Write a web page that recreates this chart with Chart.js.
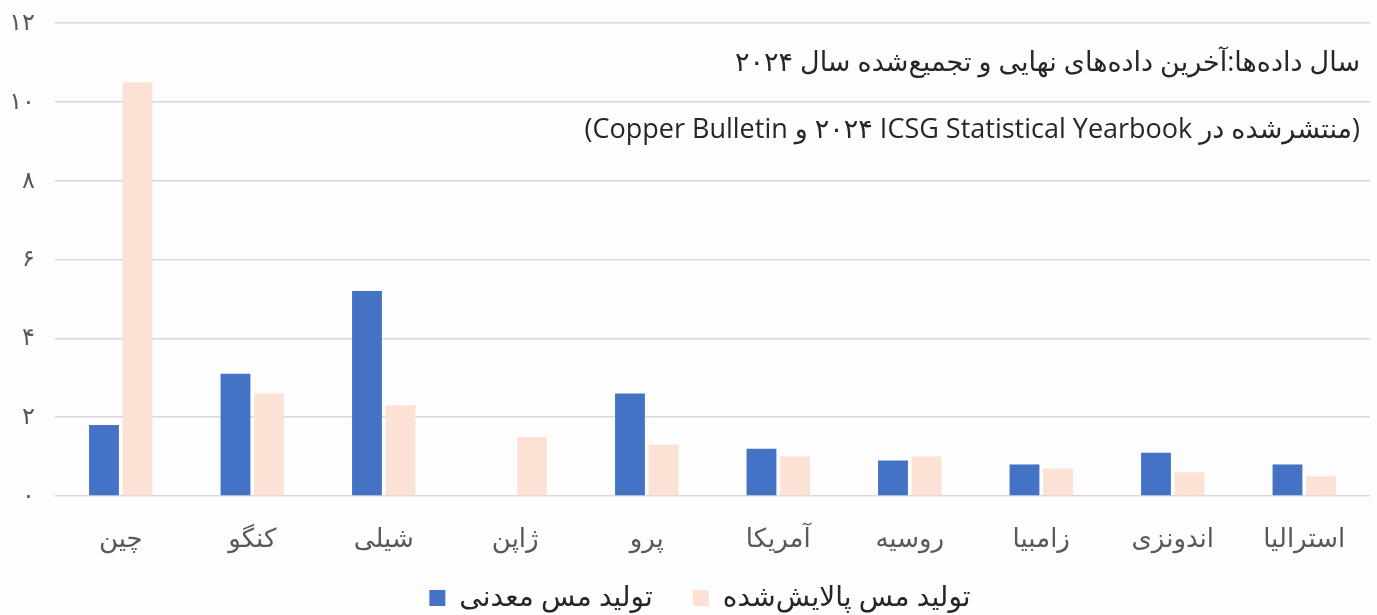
<!DOCTYPE html>
<html>
<head>
<meta charset="utf-8">
<script src="https://cdn.jsdelivr.net/npm/chart.js@4"></script>
<style>
  html, body { margin: 0; padding: 0; background: #fdfdfd; }
  #wrap { width: 1377px; height: 615px; }
</style>
</head>
<body>
<div id="wrap"><canvas id="copperChart"></canvas></div>
<script>
// Data (million tonnes)
const categories = ['چین', 'کنگو', 'شیلی', 'ژاپن', 'پرو', 'آمریکا', 'روسیه', 'زامبیا', 'اندونزی', 'استرالیا'];
const minedCopper = [1.8, 3.1, 5.2, 0, 2.6, 1.2, 0.9, 0.8, 1.1, 0.8];
const refinedCopper = [10.5, 2.6, 2.3, 1.5, 1.3, 1.0, 1.0, 0.7, 0.6, 0.5];
const seriesNames = ['تولید مس معدنی', 'تولید مس پالایش‌شده'];
const yTickValues = [0, 2, 4, 6, 8, 10, 12];
const yTickLabels = ['۰', '۲', '۴', '۶', '۸', '۱۰', '۱۲'];
const noteLines = [
    'سال داده‌ها:آخرین داده‌های نهایی و تجمیع‌شده سال ۲۰۲۴',
    '(منتشرشده در ICSG Statistical Yearbook \u200F۲۰۲۴ و Copper Bulletin)'
];

const fontFamily = '"Open Sans", "DejaVu Sans", sans-serif';

// Draws the two note lines inside the plot area, top right
const notePlugin = {
    id: 'notePlugin',
    afterDatasetsDraw(chart) {
        const ctx = chart.ctx;
        const area = chart.chartArea;
        ctx.save();
        ctx.direction = 'rtl';
        ctx.textAlign = 'right';
        ctx.textBaseline = 'middle';
        ctx.fillStyle = '#262626';
        ctx.font = '27px ' + fontFamily;
        ctx.fillText(noteLines[0], area.right - 10, 63);
        ctx.fillText(noteLines[1], area.right - 10, 130);
        ctx.restore();
    }
};

// Keeps the legend short while its items stay widely spaced
const legendHeightPlugin = {
    id: 'legendHeight',
    beforeLayout(chart) {
        const legend = chart.legend;
        if (legend && !legend._patched) {
            const origFit = legend.fit;
            legend.fit = function () {
                origFit.call(this);
                this.height = 71;
            };
            legend._patched = true;
        }
    },
    afterLayout(chart) {
        // nudge the legend a bit to the right, like the original
        chart.legend.left += 15;
        chart.legend.right += 15;
    }
};

const ctx = document.getElementById('copperChart').getContext('2d');
new Chart(ctx, {
    type: 'bar',
    data: {
        labels: categories,
        datasets: [
            {
                label: seriesNames[0],
                data: minedCopper,
                backgroundColor: '#4472C4',
                categoryPercentage: 0.51,
                barPercentage: 0.89
            },
            {
                label: seriesNames[1],
                data: refinedCopper,
                backgroundColor: '#FBE2D5',
                categoryPercentage: 0.51,
                barPercentage: 0.89
            }
        ]
    },
    options: {
        responsive: true,
        maintainAspectRatio: false,
        animation: false,
        layout: {
            padding: { top: 23, right: 7, left: 0, bottom: 0 }
        },
        scales: {
            x: {
                grid: { display: false },
                border: { display: false },
                afterFit(scale) {
                    scale.height = 48;
                    // labels reach a little below the shortened axis box
                    scale._computeLabelArea = () => undefined;
                },
                ticks: {
                    color: '#595959',
                    padding: 20,
                    font: { size: 26, family: fontFamily }
                }
            },
            y: {
                min: 0,
                max: 12,
                afterBuildTicks(scale) {
                    scale.ticks = yTickValues.map(v => ({ value: v }));
                },
                afterFit(scale) {
                    scale.width = 55;
                    scale.paddingTop = 10;
                },
                grid: { color: '#d9d9d9', lineWidth: 1.5, drawTicks: false },
                border: { display: false },
                ticks: {
                    color: '#595959',
                    padding: 20,
                    font: { size: 24, family: fontFamily },
                    callback: (value) => yTickLabels[yTickValues.indexOf(value)]
                }
            }
        },
        plugins: {
            legend: {
                position: 'bottom',
                labels: {
                    color: '#262626',
                    boxWidth: 16,
                    boxHeight: 16,
                    padding: 40,
                    font: { size: 28, family: fontFamily }
                }
            },
            tooltip: { enabled: false }
        }
    },
    plugins: [notePlugin, legendHeightPlugin]
});
</script>
</body>
</html>
